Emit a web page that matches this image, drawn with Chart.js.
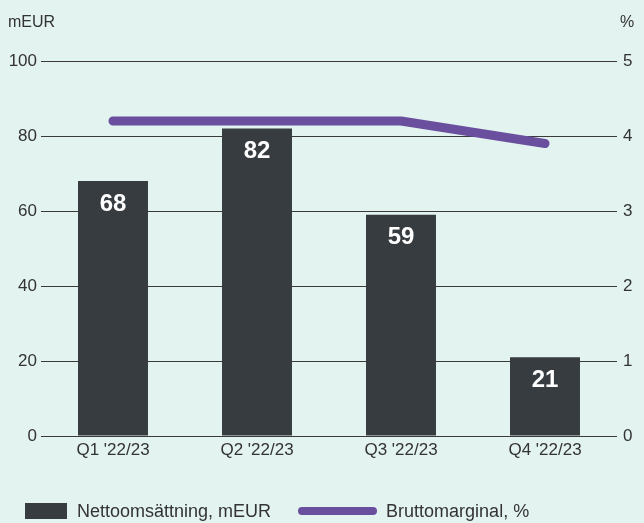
<!DOCTYPE html>
<html>
<head>
<meta charset="utf-8">
<script src="https://cdn.jsdelivr.net/npm/chart.js@4"></script>
<style>
    body { margin: 0; background: #e3f3f0; font-family: "Liberation Sans", Arial, sans-serif; color: #333; }
    #wrap { position: relative; width: 644px; height: 523px; }
    canvas { position: absolute; left: 0; top: 0; }
    .unit { position: absolute; top: 13px; font-size: 16px; color: #333; }
    #legend { position: absolute; left: 25px; top: 501px; height: 20px; font-size: 18px; color: #333; white-space: nowrap; display: flex; align-items: center; }
</style>
</head>
<body>
<div id="wrap">
    <canvas id="chart" width="644" height="523"></canvas>
    <div class="unit" style="left:8px">mEUR</div>
    <div class="unit" style="left:620px">%</div>
    <div id="legend">
        <div style="width:42px;height:16px;background:#373c41"></div>
        <div style="margin-left:10px">Nettoomsättning, mEUR</div>
        <div style="width:79px;height:8px;border-radius:4px;background:#6a4f9f;margin-left:27px"></div>
        <div style="margin-left:9px">Bruttomarginal, %</div>
    </div>
</div>
<script>
let quarters = ["Q1 '22/23", "Q2 '22/23", "Q3 '22/23", "Q4 '22/23"];
let netSales = [68, 82, 59, 21];
let grossMargin = [4.2, 4.2, 4.2, 3.9];
let salesTicks = [0, 20, 40, 60, 80, 100];
let marginTicks = [0, 1, 2, 3, 4, 5];

// white value labels inside the top of each bar
let barLabels = {
    id: 'barLabels',
    afterDatasetsDraw(chart) {
        let ctx = chart.ctx;
        let meta = chart.getDatasetMeta(1);
        ctx.save();
        ctx.fillStyle = '#ffffff';
        ctx.font = 'bold 24px "Liberation Sans", Arial, sans-serif';
        ctx.textAlign = 'center';
        ctx.textBaseline = 'middle';
        meta.data.forEach((bar, i) => {
            ctx.fillText(netSales[i], bar.x, bar.y + 23);
        });
        ctx.restore();
    }
};

let ctx = document.getElementById('chart').getContext('2d');
new Chart(ctx, {
    data: {
        labels: quarters,
        datasets: [{
            type: 'line',
            label: 'Bruttomarginal, %',
            data: grossMargin,
            yAxisID: 'y1',
            borderColor: '#6a4f9f',
            borderWidth: 9,
            borderCapStyle: 'round',
            borderJoinStyle: 'round',
            pointRadius: 0,
            tension: 0,
            order: 0
        }, {
            type: 'bar',
            label: 'Nettoomsättning, mEUR',
            data: netSales,
            yAxisID: 'y',
            backgroundColor: '#373c41',
            barPercentage: 0.486,
            categoryPercentage: 1,
            order: 1
        }]
    },
    options: {
        responsive: false,
        animation: false,
        layout: { padding: { top: 61 } },
        plugins: {
            legend: { display: false },
            tooltip: { enabled: false }
        },
        scales: {
            x: {
                grid: { display: false, drawTicks: false },
                border: { display: false },
                ticks: { color: '#333', font: { size: 17, family: '"Liberation Sans", Arial, sans-serif' }, padding: 4 },
                afterFit(s) { s.height = 87; }
            },
            y: {
                position: 'left',
                min: 0,
                max: 100,
                afterBuildTicks(s) { s.ticks = salesTicks.map(v => ({ value: v })); },
                grid: { color: '#3a3a3a', lineWidth: 1, drawTicks: false },
                border: { display: false },
                ticks: { color: '#333', font: { size: 17, family: '"Liberation Sans", Arial, sans-serif' }, padding: 4 },
                afterFit(s) { s.width = 41; }
            },
            y1: {
                position: 'right',
                min: 0,
                max: 5,
                afterBuildTicks(s) { s.ticks = marginTicks.map(v => ({ value: v })); },
                grid: { display: false, drawTicks: false },
                border: { display: false },
                ticks: { color: '#333', font: { size: 17, family: '"Liberation Sans", Arial, sans-serif' }, padding: 6 },
                afterFit(s) { s.width = 27; }
            }
        }
    },
    plugins: [barLabels]
});
</script>
</body>
</html>
